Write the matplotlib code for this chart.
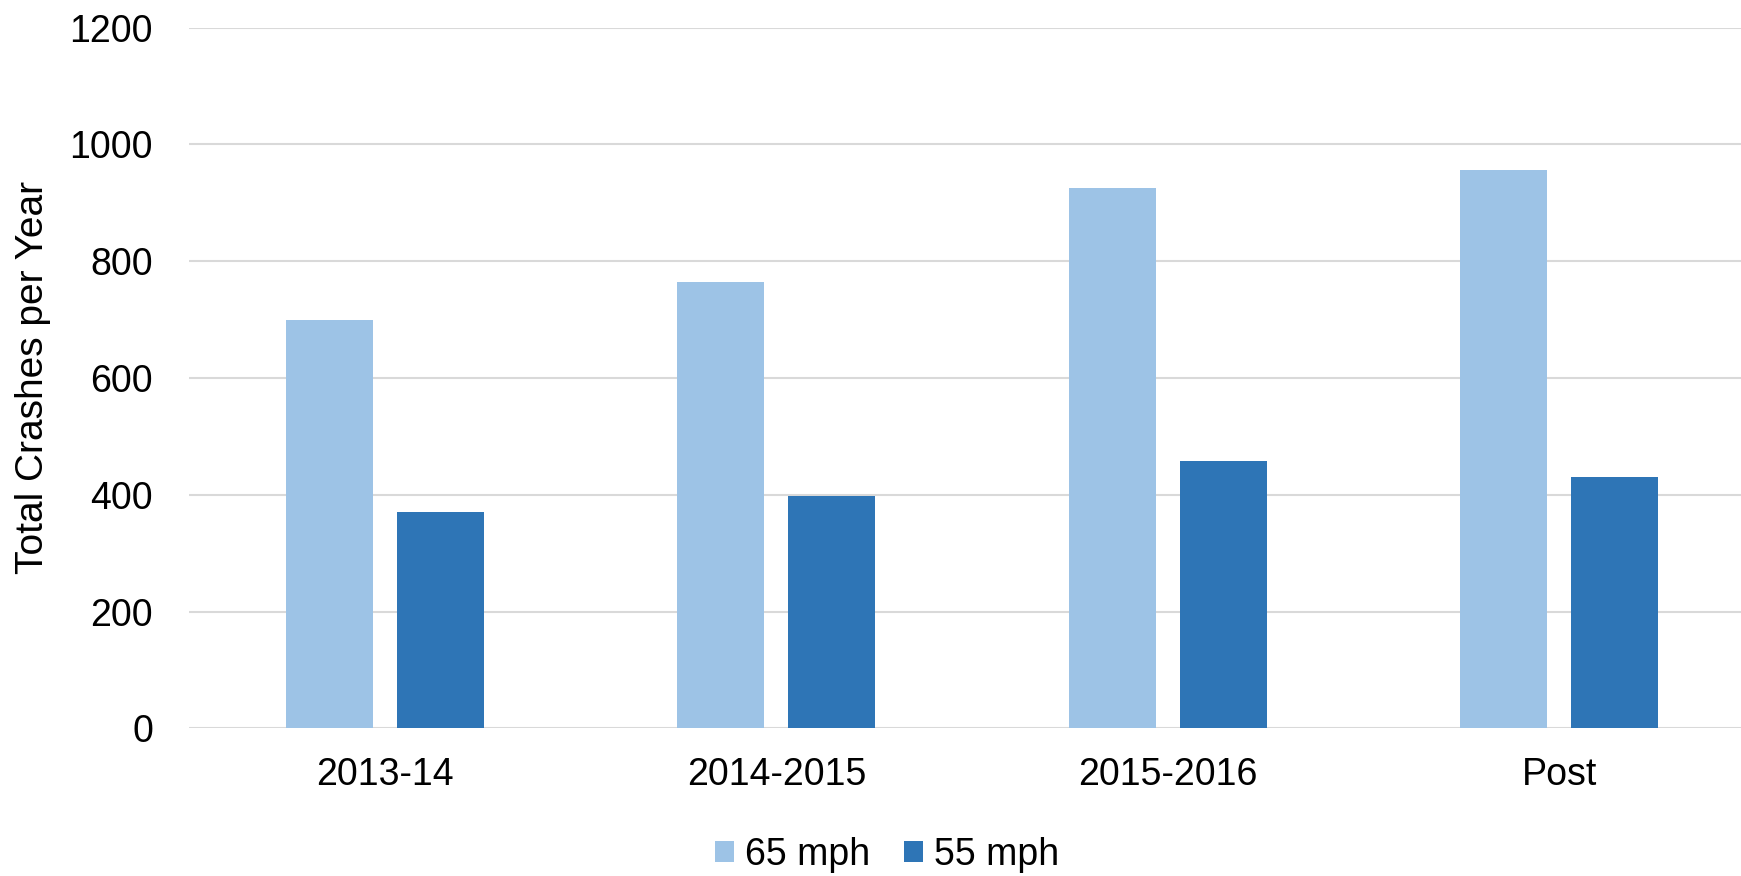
import numpy as np
import matplotlib
matplotlib.use("Agg")
import matplotlib.pyplot as plt

plt.rcParams['font.family'] = ['Liberation Sans', 'DejaVu Sans']

# data
periods = ["2013-14", "2014-2015", "2015-2016", "Post"]
crashes_65 = [700, 764, 925, 956]
crashes_55 = [371, 398, 458, 431]
series_names = ["65 mph", "55 mph"]
colors = ["#9DC3E6", "#2E75B6"]

fig = plt.figure(figsize=(17.41, 8.76), dpi=100)
ax = fig.add_axes([0.1086, 0.1686, 0.8995, 0.8])

x = np.arange(len(periods))
w = 0.222
off = 0.1416
ax.bar(x - off, crashes_65, width=w, color=colors[0], label=series_names[0], zorder=3)
ax.bar(x + off, crashes_55, width=w, color=colors[1], label=series_names[1], zorder=3)

ax.set_xlim(-0.5, 3.5)
ax.set_ylim(0, 1200)
ax.set_yticks(range(0, 1201, 200))
ax.set_xticks(x)
ax.set_xticklabels(periods)
ax.yaxis.grid(True, color="#D9D9D9", linewidth=1.5, zorder=0)
ax.set_axisbelow(True)
for s in ax.spines.values():
    s.set_visible(False)
ax.tick_params(axis='both', length=0, labelsize=27, labelcolor="#000000")
ax.tick_params(axis='y', pad=26)
ax.tick_params(axis='x', pad=21)
ax.set_ylabel("Total Crashes per Year", fontsize=28, labelpad=13)

fig.legend(loc='center', bbox_to_anchor=(0.5095, 0.024), ncol=2, frameon=False,
           fontsize=27, handlelength=0.5, handleheight=0.5, handletextpad=0.3,
           columnspacing=0.9, borderaxespad=0, borderpad=0)

fig.savefig("out.png", dpi=100)
